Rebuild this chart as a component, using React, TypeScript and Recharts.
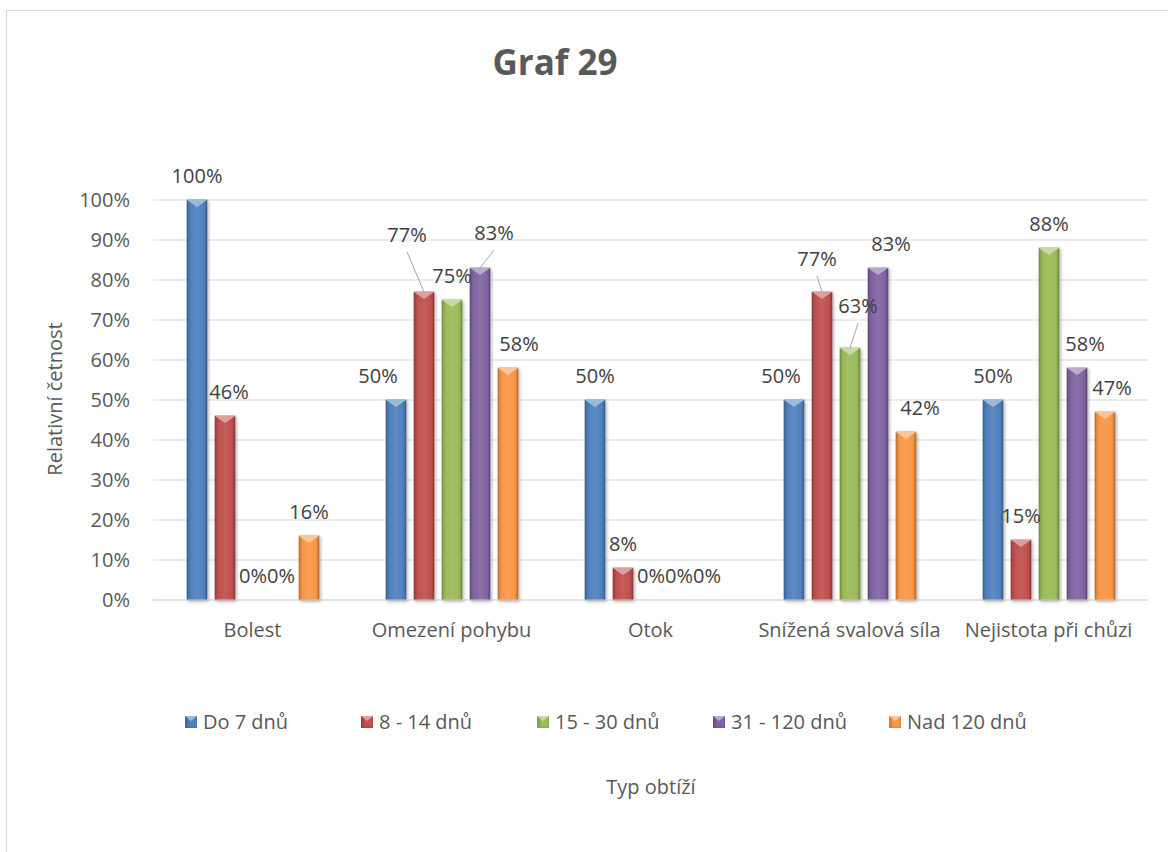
import React from 'react';
import { BarChart, Bar, XAxis, YAxis, CartesianGrid, LabelList } from 'recharts';

// kategorie obtíží a relativní četnosti (v %) podle délky pracovní neschopnosti
const categories = ['Bolest', 'Omezení pohybu', 'Otok', 'Snížená svalová síla', 'Nejistota při chůzi'];
const do7Dnu = [100, 50, 50, 50, 50];
const dnu8to14 = [46, 77, 8, 77, 15];
const dnu15to30 = [0, 75, 0, 63, 88];
const dnu31to120 = [0, 83, 0, 83, 58];
const nad120Dnu = [16, 58, 0, 42, 47];
const percentTicks = [0, 10, 20, 30, 40, 50, 60, 70, 80, 90, 100];

const FONT = '"Open Sans", "Noto Sans", sans-serif';
const TEXT = '#595959';

const series = [
  { key: 'd7', name: 'Do 7 dnů', values: do7Dnu, color: '#4f81bd' },
  { key: 'd14', name: '8 - 14 dnů', values: dnu8to14, color: '#c0504d' },
  { key: 'd30', name: '15 - 30 dnů', values: dnu15to30, color: '#9bbb59' },
  { key: 'd120', name: '31 - 120 dnů', values: dnu31to120, color: '#8064a2' },
  { key: 'n120', name: 'Nad 120 dnů', values: nad120Dnu, color: '#f79646' },
];

const data = categories.map((name, i) => {
  const row: Record<string, string | number> = { name };
  series.forEach((s) => {
    row[s.key] = s.values[i];
  });
  return row;
});

// posuny popisků, které by se jinak překrývaly (některé s vodicí čarou)
const labelNudge: Record<string, { dx: number; dy: number; leader?: boolean }> = {
  'd7:1': { dx: -18, dy: 0 },
  'd7:3': { dx: -13, dy: 0 },
  'd14:0': { dx: 4, dy: 0 },
  'd14:1': { dx: -17, dy: -33, leader: true },
  'd14:3': { dx: -5, dy: -9, leader: true },
  'd30:3': { dx: 8, dy: -18, leader: true },
  'd120:1': { dx: 14, dy: -11, leader: true },
  'd120:3': { dx: 13, dy: 0 },
  'd120:4': { dx: 8, dy: 0 },
  'n120:1': { dx: 11, dy: 0 },
  'n120:3': { dx: 14, dy: 0 },
  'n120:4': { dx: 7, dy: 0 },
};

const mix = (hex: string, target: number, amt: number) => {
  const n = parseInt(hex.slice(1), 16);
  const ch = [(n >> 16) & 255, (n >> 8) & 255, n & 255].map((c) =>
    Math.round(c + (target - c) * amt)
  );
  return `rgb(${ch[0]},${ch[1]},${ch[2]})`;
};
const shade = (hex: string, amt: number) => mix(hex, 0, amt);
const tint = (hex: string, amt: number) => mix(hex, 255, amt);

const BevelBar = (props: any) => {
  const { x, y, width, height, color, gid } = props;
  if (!height || height <= 0) return null;
  const tip = Math.min(width * 0.35, height);
  return (
    <g filter="url(#barShadow)">
      <rect x={x} y={y} width={width} height={height} fill={`url(#${gid})`} stroke={shade(color, 0.3)} strokeWidth={0.6} />
      <polygon
        points={`${x},${y} ${x + width},${y} ${x + width / 2},${y + tip}`}
        fill={tint(color, 0.45)}
      />
    </g>
  );
};

const renderLabel = (key: string) => (p: any) => {
  const { x, y, width, value, index } = p;
  const nudge = labelNudge[`${key}:${index}`] || { dx: 0, dy: 0 };
  const barX = Number(x) + Number(width) / 2;
  const cx = barX + nudge.dx;
  const cy = Number(y) - 25 + nudge.dy;
  return (
    <g>
      {nudge.leader && (
        <line x1={cx} y1={cy + 18} x2={barX} y2={Number(y)} stroke="#a6a6a6" strokeWidth={1} />
      )}
      <text x={cx} y={cy} textAnchor="middle" dominantBaseline="central" fontSize={20} fill="#404040" fontFamily={FONT}>
        {`${value}%`}
      </text>
    </g>
  );
};

const LegendMarker = ({ color }: { color: string }) => (
  <svg width={12} height={12} style={{ display: 'block' }}>
    <rect x={0} y={0} width={12} height={12} fill={color} stroke={shade(color, 0.3)} strokeWidth={0.6} />
    <rect x={0} y={0} width={3} height={12} fill={shade(color, 0.15)} />
    <polygon points="0,0 12,0 6,5" fill={tint(color, 0.45)} />
  </svg>
);

export default function App() {
  return (
    <div
      style={{
        position: 'fixed',
        left: 0,
        top: 0,
        width: 1168,
        height: 852,
        overflow: 'hidden',
        background: '#fff',
        fontFamily: FONT,
      }}
    >
      <div
        style={{
          position: 'absolute',
          left: 6,
          top: 10,
          width: 1200,
          height: 900,
          border: '1px solid #d9d9d9',
        }}
      />
      <div
        style={{
          position: 'absolute',
          left: 555,
          top: 61,
          transform: 'translate(-50%, -50%)',
          fontSize: 35,
          fontWeight: 700,
          lineHeight: 1,
          color: TEXT,
          whiteSpace: 'nowrap',
        }}
      >
        Graf 29
      </div>

      <div style={{ position: 'absolute', left: 0, top: 0 }}>
        <BarChart
          width={1168}
          height={852}
          data={data}
          margin={{ top: 200, right: 20, bottom: 222, left: 0 }}
          barSize={20}
          barGap={8}
        >
          <defs>
            <filter id="barShadow" x="-30%" y="-5%" width="160%" height="115%">
              <feDropShadow dx={1.5} dy={1.5} stdDeviation={1.5} floodColor="#000" floodOpacity={0.3} />
            </filter>
            {series.map((s) => (
              <linearGradient key={s.key} id={`g-${s.key}`} x1="0" y1="0" x2="1" y2="0">
                <stop offset="0%" stopColor={shade(s.color, 0.2)} />
                <stop offset="18%" stopColor={s.color} />
                <stop offset="50%" stopColor={tint(s.color, 0.08)} />
                <stop offset="85%" stopColor={s.color} />
                <stop offset="100%" stopColor={shade(s.color, 0.25)} />
              </linearGradient>
            ))}
          </defs>
          <CartesianGrid vertical={false} stroke="#d9d9d9" />
          <XAxis
            dataKey="name"
            axisLine={{ stroke: '#d9d9d9' }}
            tickLine={false}
            tickSize={0}
            tickMargin={23}
            interval={0}
            tick={{ fontSize: 20, fill: TEXT, fontFamily: FONT }}
          />
          <YAxis
            domain={[0, 100]}
            ticks={percentTicks}
            interval={0}
            width={153}
            axisLine={false}
            tickLine={false}
            tickSize={0}
            tickMargin={23}
            tickFormatter={(v: number) => `${v}%`}
            tick={{ fontSize: 20, fill: TEXT, fontFamily: FONT }}
          />
          {series.map((s) => (
            <Bar
              key={s.key}
              dataKey={s.key}
              name={s.name}
              fill={s.color}
              isAnimationActive={false}
              shape={(p: any) => <BevelBar {...p} color={s.color} gid={`g-${s.key}`} />}
            >
              <LabelList dataKey={s.key} content={renderLabel(s.key)} />
            </Bar>
          ))}
        </BarChart>
      </div>

      <div
        style={{
          position: 'absolute',
          left: 55,
          top: 399,
          transform: 'translate(-50%, -50%) rotate(-90deg)',
          fontSize: 20,
          lineHeight: 1,
          color: TEXT,
          whiteSpace: 'nowrap',
        }}
      >
        Relativní četnost
      </div>

      <div style={{ position: 'absolute', left: 185, top: 712, display: 'flex' }}>
        {series.map((s) => (
          <div key={s.key} style={{ width: 176, display: 'flex', alignItems: 'center', height: 20 }}>
            <LegendMarker color={s.color} />
            <span style={{ marginLeft: 6, fontSize: 20, lineHeight: 1, color: TEXT, whiteSpace: 'nowrap' }}>
              {s.name}
            </span>
          </div>
        ))}
      </div>

      <div
        style={{
          position: 'absolute',
          left: 651,
          top: 787,
          transform: 'translate(-50%, -50%)',
          fontSize: 20,
          lineHeight: 1,
          color: TEXT,
          whiteSpace: 'nowrap',
        }}
      >
        Typ obtíží
      </div>
    </div>
  );
}
